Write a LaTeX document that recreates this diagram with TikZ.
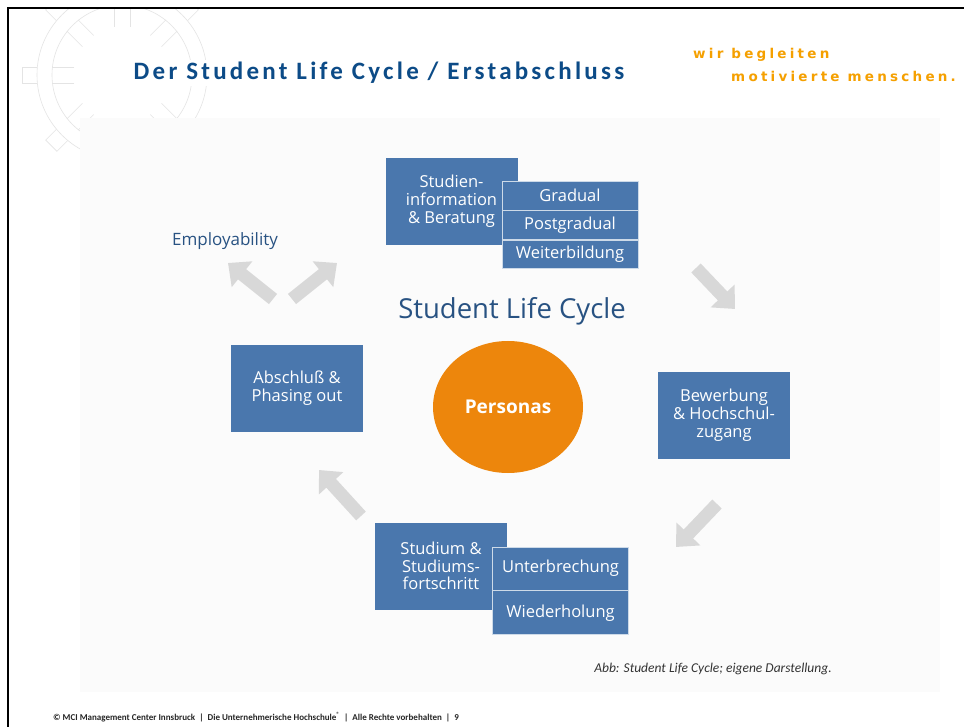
\documentclass[tikz,border=0pt]{standalone}
\usepackage{fontspec}
\setmainfont{Open Sans}
\newfontfamily\titlefont[LetterSpace=13]{Carlito}
\newfontfamily\mottofont[LetterSpace=24]{DejaVu Sans}
\newfontfamily\notefont{Carlito}
\usetikzlibrary{arrows.meta}
\usetikzlibrary{positioning}
\usetikzlibrary{shapes.geometric}

\definecolor{titleblue}{RGB}{12,75,135}
\definecolor{mottoorange}{RGB}{245,160,0}
\definecolor{boxblue}{RGB}{74,119,173}
\definecolor{boxline}{RGB}{205,218,232}
\definecolor{personaorange}{RGB}{237,134,12}
\definecolor{arrowgray}{RGB}{216,216,216}
\definecolor{cycleblue}{RGB}{40,82,130}
\definecolor{wheelgray}{RGB}{228,228,228}

\tikzset{
  bluebox/.style={rectangle,fill=boxblue,text=white,align=center,inner sep=0pt,
    minimum width=132pt,minimum height=87pt,font=\fontsize{16.5}{17.8}\selectfont},
  subbox/.style={rectangle,fill=boxblue,draw=boxline,line width=0.8pt,text=white,inner sep=0pt,
    minimum width=136pt,font=\fontsize{16.5}{17.8}\selectfont},
  cyclearrow/.style={draw=arrowgray,line width=13pt,-{Triangle[width=32pt,length=18pt]}},
}

\begin{document}
\begin{tikzpicture}[x=1pt,y=-1pt]
\useasboundingbox (0,0) rectangle (964,727);
\fill[white] (0,0) rectangle (964,727);

% wheel watermark
\begin{scope}
\clip (9,9) rectangle (300,330);
\draw[wheelgray,line width=0.6pt] (122,75) circle (70) (122,75) circle (85);
\foreach \a in {0,45,...,315}{
  \draw[wheelgray,line width=0.6pt,rotate around={\a:(122,75)}]
    (170,67) -- (192,67) (170,83) -- (192,83)
    (207,67) -- (222,67) -- (222,83) -- (207,83);
}
\end{scope}

% frame
\draw[line width=2.2pt] (8,727) -- (8,8) -- (964,8);

% header
\node[fill=white,inner sep=2pt,font=\titlefont\bfseries\fontsize{25}{30}\selectfont,text=titleblue] (title) at (379,73) {Der Student Life Cycle / Erstabschluss};
\node[font=\mottofont\bfseries\fontsize{13.5}{15}\selectfont,text=mottoorange,anchor=west,inner sep=0pt] (motto1) at (693,55) {wir begleiten};
\node[font=\mottofont\bfseries\fontsize{13.5}{15}\selectfont,text=mottoorange,anchor=west,inner sep=0pt] (motto2) at (731,76) {motivierte menschen.};

% diagram background
\fill[gray!3] (80,118) rectangle (940,692);

\node[font=\fontsize{27.5}{32}\selectfont,text=cycleblue] (cycle) at (512,311) {Student Life Cycle};
\node[ellipse,fill=personaorange,minimum width=150pt,minimum height=132pt,text=white,
  font=\bfseries\fontsize{19}{23}\selectfont] (personas) at (508,407) {Personas};

\node[bluebox] (info) at (451.5,201.5) {Studien-\\information\\\& Beratung};
\node[subbox,minimum height=29pt] (gradual) at (570,195.5) {Gradual};
\node[subbox,minimum height=28.5pt,below=0pt of gradual] (postgradual) {Postgradual};
\node[subbox,minimum height=28.5pt,below=0pt of postgradual] (weiter) {Weiterbildung};

\node[bluebox] (bewerbung) at (724,415) {Bewerbung\\\& Hochschul-\\zugang};

\node[bluebox] (studium) at (441,566) {Studium \&\\Studiums-\\fortschritt};
\node[subbox,minimum height=43pt] (unterbrechung) at (560.5,568.5) {Unterbrechung};
\node[subbox,minimum height=44pt,below=0pt of unterbrechung] (wiederholung) {Wiederholung};

\node[bluebox] (abschluss) at (297,388.5) {Abschluß \&\\Phasing out};

\node[font=\fontsize{17}{20}\selectfont,text=cycleblue] (employ) at (225,241) {Employability};

% arrows
\coordinate (a1s) at (273,299); \coordinate (a1e) at (228,263);
\coordinate (a2s) at (292,299); \coordinate (a2e) at (337,263);
\coordinate (a3s) at (696,268); \coordinate (a3e) at (735,309);
\coordinate (a4s) at (717,504); \coordinate (a4e) at (676,547);
\coordinate (a5s) at (361,516); \coordinate (a5e) at (319,470);
\draw[cyclearrow] (a1s) -- (a1e);
\draw[cyclearrow] (a2s) -- (a2e);
\draw[cyclearrow] (a3s) -- (a3e);
\draw[cyclearrow] (a4s) -- (a4e);
\draw[cyclearrow] (a5s) -- (a5e);

% notes
\node[font=\notefont\itshape\fontsize{13.5}{16}\selectfont,text=black!80] (caption) at (713,669) {Abb: Student Life Cycle; eigene Darstellung.};
\node[font=\notefont\bfseries\fontsize{9}{11}\selectfont,text=black!85] (footer) at (256,717) {© MCI Management Center Innsbruck \ | \ Die Unternehmerische Hochschule\textsuperscript{®} \ | \ Alle Rechte vorbehalten \ | \ 9};
\end{tikzpicture}
\end{document}
